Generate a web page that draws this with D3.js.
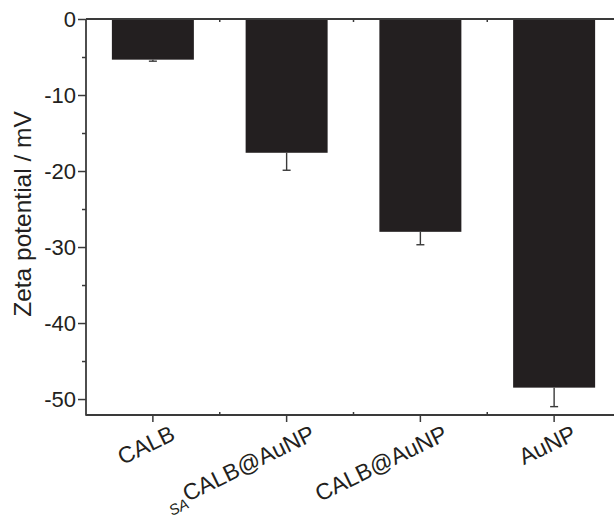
<!DOCTYPE html>
<html><head><meta charset="utf-8">
<script src="https://cdn.jsdelivr.net/npm/d3@7"></script>
<style>body{margin:0;background:#fff} svg{display:block}</style>
</head><body>
<svg id="c" width="614" height="524"></svg>
<script>
const categories = ["CALB", "_{SA}CALB@AuNP", "CALB@AuNP", "AuNP"];
const zetaValues = [-5.35, -17.6, -28.0, -48.5];
const zetaErrors = [0.2, 2.3, 1.7, 2.5];
const yTickValues = [0, -10, -20, -30, -40, -50];
const yMinorTickValues = [-5, -15, -25, -35, -45];
const yTitle = "Zeta potential / mV";

const svg = d3.select("#c");
const plot = {left: 86, right: 621, top: 19, bottom: 415, visibleRight: 614};
const pad = 0.387;
const x = d3.scaleBand().domain(categories).range([plot.left, plot.right])
  .paddingInner(pad).paddingOuter(pad / 2);
const y = d3.scaleLinear().domain([-52.1, 0]).range([plot.bottom, plot.top]);
const ink = "#231f20", axisColor = "#3a3a3a";
const font = "'Liberation Sans', Arial, Helvetica, sans-serif";

// bars
svg.append("g").selectAll("rect").data(categories).join("rect")
  .attr("x", d => x(d)).attr("width", x.bandwidth())
  .attr("y", y(0))
  .attr("height", (d, i) => y(zetaValues[i]) - y(0))
  .attr("fill", ink);

// error bars (downward only)
const eb = svg.append("g").attr("stroke", axisColor).attr("stroke-width", 1.4);
categories.forEach((d, i) => {
  const cx = x(d) + x.bandwidth() / 2;
  const y1 = y(zetaValues[i]), y2 = y(zetaValues[i] - zetaErrors[i]);
  eb.append("line").attr("x1", cx).attr("x2", cx).attr("y1", y1).attr("y2", y2);
  eb.append("line").attr("x1", cx - 4).attr("x2", cx + 4).attr("y1", y2).attr("y2", y2);
});

// Y axis
const yAxis = svg.append("g").attr("transform", `translate(${plot.left},0)`)
  .call(d3.axisLeft(y).tickValues(yTickValues).tickSize(8).tickSizeOuter(0).tickPadding(2)
    .tickFormat(d => d === 0 ? "0" : "-" + Math.abs(d)));
yAxis.select(".domain").remove();
yAxis.selectAll("line").attr("stroke", axisColor).attr("stroke-width", 1.5);
yAxis.selectAll("text").attr("font-family", font).attr("font-size", 22).attr("fill", ink).attr("dy", "0.35em");
const yMinor = svg.append("g").attr("transform", `translate(${plot.left},0)`)
  .call(d3.axisLeft(y).tickValues(yMinorTickValues).tickSize(4).tickFormat(""));
yMinor.select(".domain").remove();
yMinor.selectAll("line").attr("stroke", axisColor).attr("stroke-width", 1.5);
svg.append("line").attr("x1", plot.left).attr("x2", plot.left)
  .attr("y1", plot.top).attr("y2", plot.bottom + 0.75)
  .attr("stroke", axisColor).attr("stroke-width", 1.8);

// Bottom axis
const xAxis = svg.append("g").attr("transform", `translate(0,${plot.bottom})`)
  .call(d3.axisBottom(x).tickSize(7).tickSizeOuter(0).tickFormat(""));
xAxis.select(".domain").remove();
xAxis.selectAll("line").attr("stroke", axisColor).attr("stroke-width", 1.5);
svg.append("line").attr("x1", plot.left).attr("x2", plot.visibleRight)
  .attr("y1", plot.bottom).attr("y2", plot.bottom)
  .attr("stroke", axisColor).attr("stroke-width", 1.8);
// Top axis line
svg.append("line").attr("x1", plot.left).attr("x2", plot.visibleRight)
  .attr("y1", plot.top).attr("y2", plot.top)
  .attr("stroke", axisColor).attr("stroke-width", 1.8);
// boundary minor ticks
const step = x.step();
categories.slice(1).forEach(d => {
  const bx = x(d) - step * pad / 2;
  svg.append("line").attr("x1", bx).attr("x2", bx).attr("y1", plot.bottom).attr("y2", plot.bottom - 3)
    .attr("stroke", axisColor).attr("stroke-width", 1.5);
  svg.append("line").attr("x1", bx).attr("x2", bx).attr("y1", plot.top).attr("y2", plot.top + 3)
    .attr("stroke", axisColor).attr("stroke-width", 1.5);
});

// X labels (rotated)
const angle = 26;
categories.forEach(d => {
  const cx = x(d) + x.bandwidth() / 2;
  const m = d.match(/^_\{(.+?)\}(.*)$/);
  const t = svg.append("text")
    .attr("text-anchor", "end").attr("font-family", font).attr("font-size", 23).attr("fill", ink);
  if (m) {
    t.append("tspan").attr("font-size", 15).attr("font-style", "italic").attr("dy", 6).text(m[1]);
    t.append("tspan").attr("dy", -6).text(m[2]);
  } else {
    t.text(d);
  }
  const L = t.node().getComputedTextLength();
  t.attr("transform", `translate(${cx + 20 + 0.06 * L},${plot.bottom + 24}) rotate(${-angle})`);
});

// Y title
svg.append("text")
  .attr("transform", `translate(31,214) rotate(-90)`)
  .attr("text-anchor", "middle").attr("font-family", font).attr("font-size", 24.5).attr("fill", ink)
  .text(yTitle);
</script>
</body></html>
